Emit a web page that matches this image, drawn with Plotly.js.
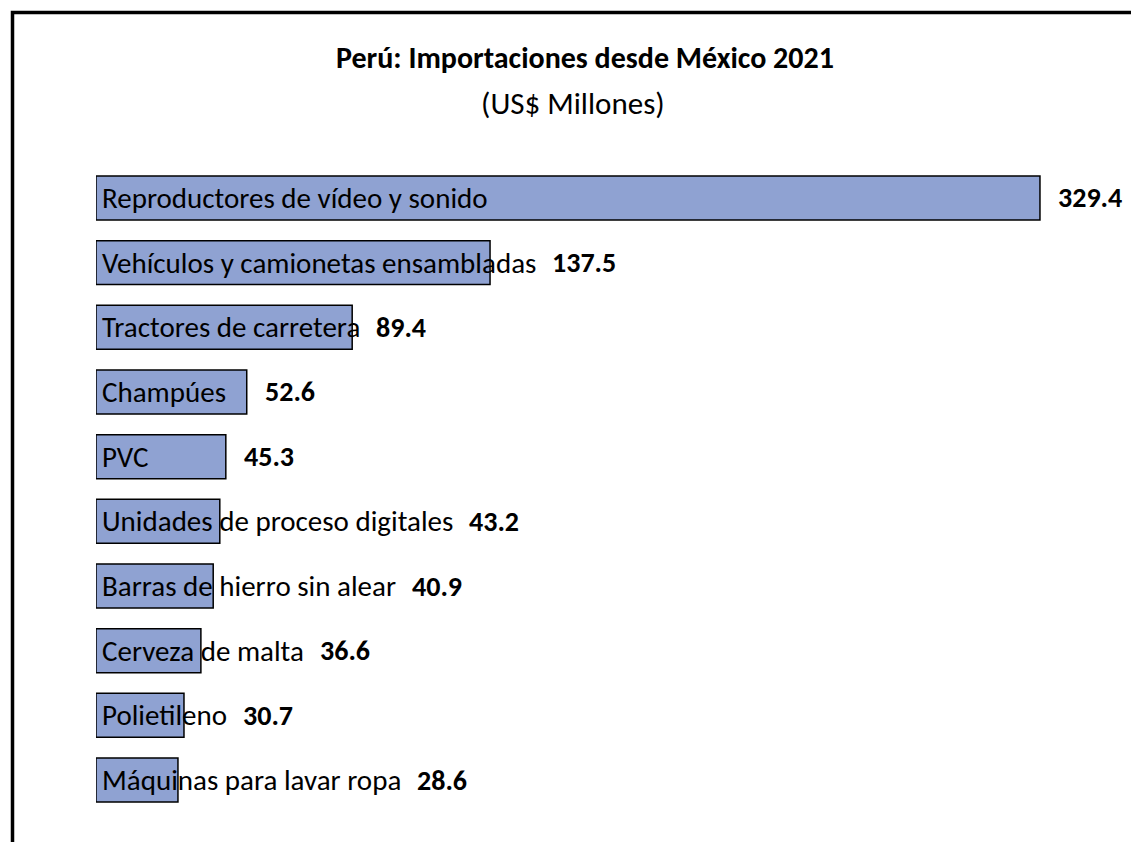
<!DOCTYPE html>
<html>
<head>
<meta charset="utf-8">
<script src="https://cdn.plot.ly/plotly-3.0.1.min.js"></script>
<style>
  body { margin: 0; background: #fff; }
  #graph { width: 1131px; height: 842px; }
</style>
</head>
<body>
<div id="graph"></div>
<script>
// Data (US$ millones)
var productos = [
    'Reproductores de vídeo y sonido',
    'Vehículos y camionetas ensambladas',
    'Tractores de carretera',
    'Champúes',
    'PVC',
    'Unidades de proceso digitales',
    'Barras de hierro sin alear',
    'Cerveza de malta',
    'Polietileno',
    'Máquinas para lavar ropa'
];
var valores = [329.4, 137.5, 89.4, 52.6, 45.3, 43.2, 40.9, 36.6, 30.7, 28.6];

var tituloTexto = 'Perú: Importaciones desde México 2021';
var subtituloTexto = '(US$ Millones)';

var W = 1131, H = 842;
var fontFam = 'Carlito, Lato, sans-serif';
var labelSize = 29;
var valueSize = 28;
var xDomain = [96 / W, 1099 / W];
var xRange = [0, 350];
var pxPerUnit = (xDomain[1] - xDomain[0]) * W / (xRange[1] - xRange[0]);
var labelShift = 4;   // px from the bar base to the category text
var valueGap = 16;    // px between bar/text end and the value

// measure category text so the value sits after whichever ends later
var ctx = document.createElement('canvas').getContext('2d');
ctx.font = labelSize + 'px ' + fontFam;

let data = [{
    type: 'bar',
    orientation: 'h',
    y: productos,
    x: valores,
    marker: {color: '#8fa2d2', line: {color: '#000000', width: 1.5}},
    hoverinfo: 'x+y'
}];

let annotations = [];
for (let i = 0; i < productos.length; i++) {
    annotations.push({
        x: 0, y: productos[i], xref: 'x', yref: 'y',
        text: productos[i], showarrow: false,
        xanchor: 'left', yanchor: 'middle', xshift: labelShift,
        font: {family: fontFam, size: labelSize, color: '#000000'}
    });
    let textEnd = (labelShift + ctx.measureText(productos[i]).width) / pxPerUnit;
    annotations.push({
        x: Math.max(valores[i], textEnd), y: productos[i], xref: 'x', yref: 'y',
        text: '<b>' + valores[i].toFixed(1) + '</b>', showarrow: false,
        xanchor: 'left', yanchor: 'middle', xshift: valueGap,
        font: {family: fontFam, size: valueSize, color: '#000000'}
    });
}
// title and subtitle
annotations.push({
    x: 585 / W, y: 1 - 57 / H, xref: 'paper', yref: 'paper',
    text: '<b>' + tituloTexto + '</b>', showarrow: false,
    xanchor: 'center', yanchor: 'middle',
    font: {family: fontFam, size: 30, color: '#000000'}
});
annotations.push({
    x: 573 / W, y: 1 - 103 / H, xref: 'paper', yref: 'paper',
    text: subtituloTexto, showarrow: false,
    xanchor: 'center', yanchor: 'middle',
    font: {family: fontFam, size: 31, color: '#000000'}
});

let layout = {
    width: W, height: H,
    margin: {l: 0, r: 0, t: 0, b: 0, pad: 0},
    paper_bgcolor: '#ffffff',
    plot_bgcolor: '#ffffff',
    showlegend: false,
    bargap: 0.32,
    xaxis: {domain: xDomain, range: xRange, visible: false, fixedrange: true},
    yaxis: {domain: [0.0352, 0.8033], type: 'category', range: [9.5, -0.5],
            showticklabels: false, showgrid: false, zeroline: false, showline: false,
            ticks: '', fixedrange: true},
    annotations: annotations,
    // outer frame (right and bottom edges fall outside the picture)
    shapes: [{
        type: 'rect', xref: 'paper', yref: 'paper',
        x0: 12.5 / W, x1: 1.05, y0: -0.05, y1: 1 - 12.5 / H,
        line: {color: '#000000', width: 3.5}
    }]
};

Plotly.newPlot('graph', data, layout, {displayModeBar: false, staticPlot: true});
</script>
</body>
</html>
